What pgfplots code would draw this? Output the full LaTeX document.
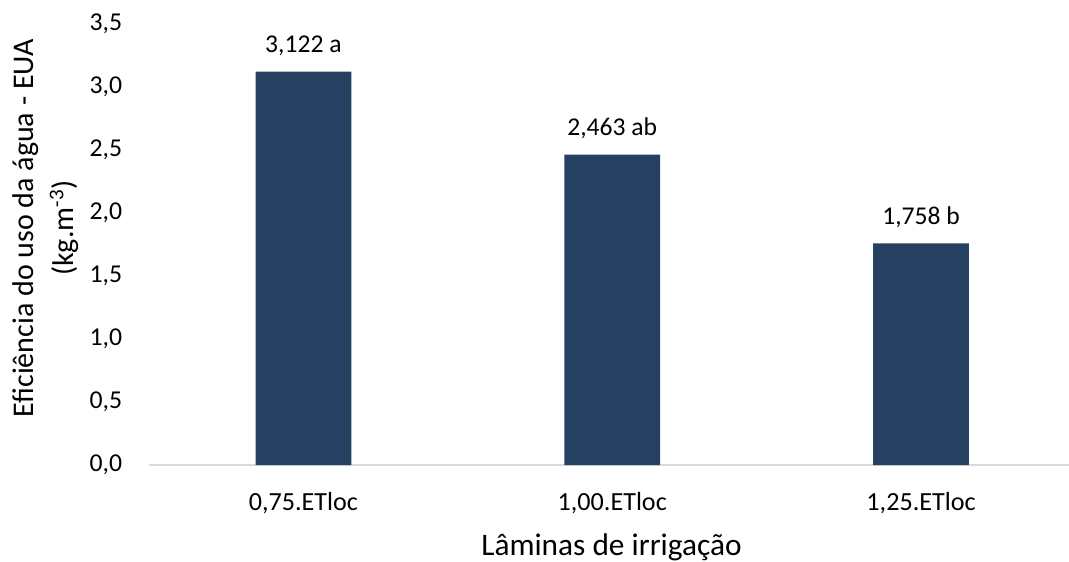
\documentclass[border=0pt]{standalone}
\usepackage{pgfplots}
\pgfplotsset{compat=1.18}
\usepackage{fontspec}
\setmainfont{Carlito}
\definecolor{barblue}{HTML}{264061}
\definecolor{axgray}{HTML}{D9D9D9}
\begin{document}
\begin{tikzpicture}
\useasboundingbox (-111.75pt,-72pt) rectangle (690pt,348.75pt);
\begin{axis}[
  at={(0,0)}, anchor=south west,
  scale only axis, width=690pt, height=330.75pt,
  xmin=-0.5, xmax=2.479, ymin=0, ymax=3.5,
  axis x line*=bottom, axis y line*=left,
  x axis line style={draw=axgray, line width=1.2pt, -},
  y axis line style={draw=none},
  ytick={0,0.5,...,3.5},
  xtick={0,1,2},
  xticklabels={0{,}75.ETloc,1{,}00.ETloc,1{,}25.ETloc},
  major tick length=0pt,
  /pgf/number format/.cd, use comma, fixed, fixed zerofill, precision=1, assume math mode=true,
  /pgfplots/.cd,
  xticklabel style={font=\fontsize{19.6}{23}\selectfont, anchor=base, inner sep=0pt, yshift=-34pt},
  yticklabel style={font=\fontsize{19.3}{23}\selectfont, anchor=east, inner sep=0pt, xshift=-20pt},
  ylabel={Eficiência do uso da água - EUA\\(kg.m\textsuperscript{-3})},
  ylabel style={at={(rel axis cs:-0.1125,0.537)}, anchor=center, rotate=0, align=center, font=\fontsize{22.5}{30}\selectfont},
  xlabel={Lâminas de irrigação},
  xlabel style={at={(rel axis cs:0.5027,0)}, anchor=base, yshift=-67.5pt, font=\fontsize{23.5}{26}\selectfont},
  clip=false,
]
\addplot[ybar, bar width=0.31, fill=barblue, draw=none,
  point meta=explicit symbolic,
  nodes near coords,
  nodes near coords style={font=\fontsize{19.2}{23}\selectfont, anchor=base, inner sep=0pt, yshift=14pt, text=black}]
  coordinates {(0,3.122) [3,122 a] (1,2.463) [2,463 ab] (2,1.758) [1,758 b]};
\end{axis}
\end{tikzpicture}
\end{document}
